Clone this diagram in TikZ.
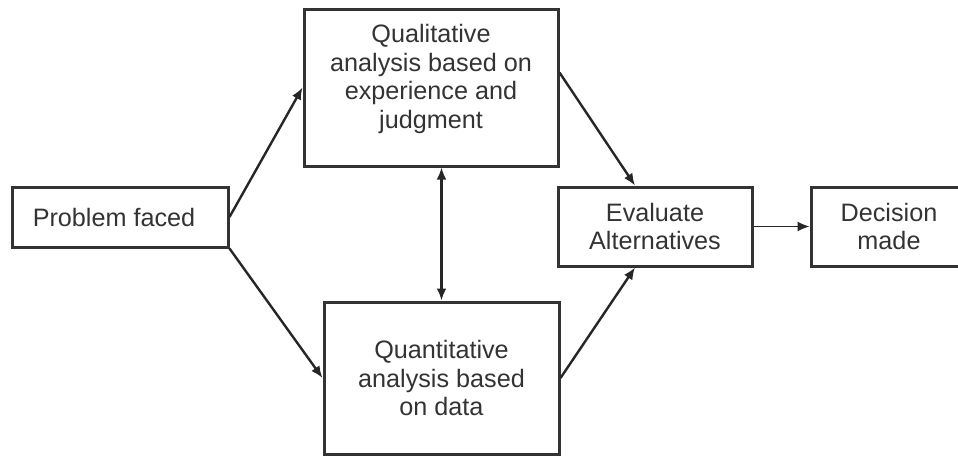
\documentclass[tikz,border=0pt]{standalone}
\usepackage{fontspec}
\setmainfont{Liberation Sans}
\usetikzlibrary{arrows.meta}
\tikzset{box/.style={draw=black!80, line width=1.5pt, align=center, inner sep=0pt, text=black!80, font=\fontsize{12.6}{14.25}\selectfont},
link/.style={draw=black!85, line width=1.2pt, -{Latex[length=6pt,width=5pt]}}}

\begin{document}
\begin{tikzpicture}[x=0.5pt, y=-0.5pt]
\useasboundingbox (0, 0) rectangle (958, 456);
\node[box, minimum width=108pt, minimum height=30pt] (prob) at (120, 217) {Problem faced\hspace{6pt}};
\node[box, minimum width=127pt, minimum height=78.5pt] (qual) at (431, 87.5) {Qualitative\\analysis based on\\experience and\\judgment\rule[-11pt]{0pt}{0pt}};
\node[box, minimum width=117.5pt, minimum height=76pt] (quant) at (441.5, 378) {Quantitative\\analysis based\\on data};
\node[box, minimum width=97pt, minimum height=39.5pt] (eval) at (655, 226.5) {Evaluate\\Alternatives};
\node[box, minimum width=78pt, minimum height=39.5pt] (dec) at (889, 226.5) {Decision\\made};
\draw[link] (prob.east) -- (qual.west);
\draw[link] (prob.south east) -- (quant.west);
\draw[link] ([yshift=7.5pt]qual.east) -- ([xshift=-10pt]eval.north);
\draw[link] (quant.east) -- ([xshift=-10pt]eval.south);
\draw[link, {Latex[length=6pt,width=5pt]}-{Latex[length=6pt,width=5pt]}] (quant.north |- qual.south) -- (quant.north);
\draw[link, line width=0.6pt] (eval.east) -- (dec.west);
\end{tikzpicture}
\end{document}
